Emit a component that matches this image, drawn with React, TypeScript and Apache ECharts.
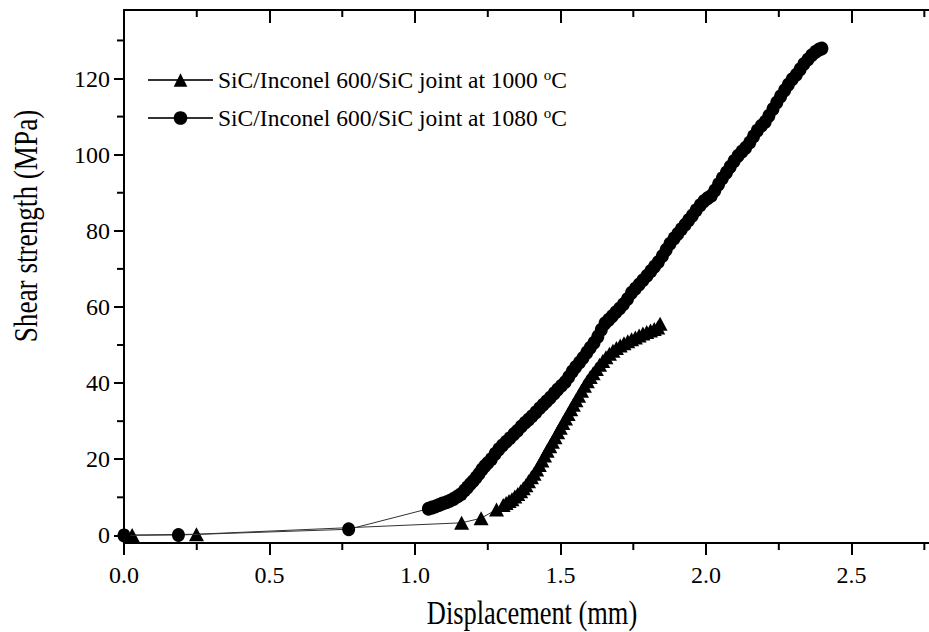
import React, { useEffect, useRef } from 'react';
import * as echarts from 'echarts';

// ---- data ----
const seriesNames = [
  'SiC/Inconel 600/SiC joint at 1000 °C',
  'SiC/Inconel 600/SiC joint at 1080 °C',
];

const xTicks = [0, 0.5, 1.0, 1.5, 2.0, 2.5];
const xMinorTicks = [0.25, 0.75, 1.25, 1.75, 2.25, 2.75];
const yTicks = [0, 20, 40, 60, 80, 100, 120];
const yMinorTicks = [10, 30, 50, 70, 90, 110, 130];

// 1000 °C joint (triangles)
const disp1000 = [
  0.028, 0.249, 1.16, 1.227, 1.28,
  1.303, 1.313, 1.323, 1.333, 1.343, 1.353, 1.363, 1.372, 1.381, 1.39,
  1.4, 1.409, 1.418, 1.427, 1.436, 1.445, 1.454, 1.463, 1.472, 1.481,
  1.49, 1.499, 1.508, 1.517, 1.526, 1.535, 1.544, 1.553, 1.562, 1.572,
  1.582, 1.592, 1.602, 1.612, 1.623, 1.634, 1.645, 1.656, 1.668, 1.68,
  1.692, 1.705, 1.718, 1.731, 1.744, 1.757, 1.77, 1.783, 1.796, 1.809,
  1.822, 1.834, 1.842,
];
const shear1000 = [
  0.1, 0.3, 3.3, 4.5, 6.8,
  8.0, 8.5, 9.0, 9.5, 10.2, 10.9, 11.6, 12.4, 13.2, 14.2,
  15.3, 16.2, 17.3, 18.5, 19.7, 21.0, 22.2, 23.4, 24.6, 25.8,
  27.1, 28.3, 29.5, 30.7, 31.9, 33.1, 34.3, 35.5, 36.7, 38.0,
  39.3, 40.5, 41.6, 42.6, 43.7, 44.8, 45.8, 46.8, 47.7, 48.5,
  49.2, 49.9, 50.5, 51.0, 51.5, 52.0, 52.5, 53.0, 53.4, 53.8,
  54.2, 54.6, 55.6,
];

// 1080 °C joint (circles)
const disp1080 = [
  0, 0.187, 0.772,
  1.046, 1.058, 1.07, 1.083, 1.095, 1.108, 1.12, 1.133, 1.146, 1.158,
  1.17, 1.18, 1.19, 1.2, 1.21, 1.22, 1.23, 1.24, 1.25, 1.262,
  1.275, 1.288, 1.3, 1.313, 1.326, 1.34, 1.352, 1.365, 1.378, 1.39,
  1.402, 1.415, 1.428, 1.44, 1.452, 1.465, 1.478, 1.49, 1.503, 1.516,
  1.528, 1.54, 1.552, 1.565, 1.577, 1.59, 1.602, 1.615, 1.628, 1.64,
  1.653, 1.665, 1.678, 1.69, 1.703, 1.716, 1.73, 1.744, 1.757, 1.77,
  1.783, 1.797, 1.81, 1.823, 1.836, 1.85, 1.863, 1.876, 1.89, 1.903,
  1.915, 1.928, 1.94, 1.953, 1.966, 1.98, 1.993, 2.006, 2.018, 2.03,
  2.043, 2.056, 2.07, 2.083, 2.096, 2.11, 2.123, 2.136, 2.15, 2.163,
  2.176, 2.19, 2.203, 2.216, 2.23, 2.243, 2.256, 2.27, 2.283, 2.296,
  2.31, 2.323, 2.336, 2.35, 2.363, 2.376, 2.388, 2.398,
];
const shear1080 = [
  0, 0.1, 1.6,
  7.0, 7.3, 7.6, 8.0, 8.4, 8.7, 9.1, 9.6, 10.2, 10.8,
  11.8, 12.6, 13.5, 14.3, 15.2, 16.2, 17.3, 18.2, 19.0, 20.0,
  21.4, 22.6, 23.6, 24.6, 25.5, 26.6, 27.5, 28.6, 29.6, 30.4,
  31.3, 32.3, 33.4, 34.3, 35.2, 36.2, 37.3, 38.3, 39.3, 40.3,
  41.6, 43.0, 44.2, 45.4, 46.6, 48.0, 49.3, 50.6, 52.2, 54.0,
  55.7, 56.6, 57.6, 58.6, 59.6, 60.7, 62.1, 63.7, 64.8, 65.9,
  67.0, 68.2, 69.4, 70.6, 71.8, 73.4, 75.0, 76.6, 78.0, 79.2,
  80.4, 81.6, 82.8, 84.0, 85.4, 86.7, 87.8, 88.6, 89.2, 90.6,
  92.2, 93.8, 95.3, 96.8, 98.3, 99.7, 100.8, 101.8, 103.2, 104.8,
  106.3, 107.6, 108.6, 110.2, 112.0, 113.7, 115.3, 116.9, 118.4, 119.8,
  121.0, 122.4, 123.8, 125.0, 126.1, 127.0, 127.6, 127.9,
];

const xTitle = 'Displacement (mm)';
const yTitle = 'Shear strength (MPa)';

const FONT = "'Liberation Serif', 'Times New Roman', serif";

// visible part of the axes (the frame's right side lies just past the picture edge)
const X_MIN = 0;
const X_MAX = 2.766;
const Y_MIN = -2;
const Y_MAX = 138;

function zip(xs: number[], ys: number[]) {
  return xs.map((x, i) => [x, ys[i]]);
}

export default function App() {
  const ref = useRef<HTMLDivElement>(null);

  useEffect(() => {
    if (!ref.current) return;
    const chart = echarts.init(ref.current, undefined, { renderer: 'svg' });

    const lineStyle = { color: '#000', width: 2 };
    const baseX = { type: 'value', min: X_MIN, max: X_MAX, splitLine: { show: false } };
    const baseY = { type: 'value', min: Y_MIN, max: Y_MAX, splitLine: { show: false } };
    const tickStyle = { stroke: '#000', lineWidth: 2 };

    const option: any = {
      animation: false,
      backgroundColor: '#fff',
      grid: {
        left: 124,
        right: 0,
        top: 10,
        bottom: 89,
        containLabel: false,
        outerBoundsMode: 'none',
      },
      legend: {
        orient: 'vertical',
        left: 142,
        top: 62,
        padding: 5,
        itemWidth: 65,
        itemHeight: 17,
        itemGap: 12,
        data: seriesNames,
        formatter: (name: string) => name.replace(' °C', ' {sup|o}C'),
        textStyle: {
          fontFamily: FONT,
          fontSize: 23.5,
          color: '#000',
          lineHeight: 26,
          rich: {
            sup: {
              fontFamily: FONT,
              fontSize: 15,
              color: '#000',
              lineHeight: 15,
              verticalAlign: 'top',
            },
          },
        },
      },
      xAxis: [
        {
          ...baseX,
          position: 'bottom',
          axisLine: { show: true, onZero: false, lineStyle },
          axisTick: { show: true, inside: false, length: 12, lineStyle, customValues: xTicks },
          axisLabel: {
            show: true,
            customValues: xTicks,
            formatter: (v: number) => v.toFixed(1),
            margin: 20,
            fontSize: 24,
            fontFamily: FONT,
            color: '#000',
          },
        },
        {
          ...baseX,
          position: 'top',
          axisLine: { show: true, onZero: false, lineStyle },
          axisTick: { show: true, inside: true, length: 13, lineStyle, customValues: xTicks },
          axisLabel: { show: false },
        },
      ],
      yAxis: [
        {
          ...baseY,
          position: 'left',
          axisLine: { show: true, onZero: false, lineStyle },
          axisTick: { show: true, inside: false, length: 10, lineStyle, customValues: yTicks },
          axisLabel: {
            show: true,
            customValues: yTicks,
            margin: 14,
            fontSize: 24,
            fontFamily: FONT,
            color: '#000',
          },
        },
      ],
      graphic: [
        {
          type: 'text',
          x: 532,
          y: 612,
          scaleX: 0.8,
          style: {
            text: xTitle,
            fontFamily: FONT,
            fontSize: 33,
            fill: '#000',
            align: 'center',
            verticalAlign: 'middle',
          },
        },
        {
          type: 'text',
          x: 26,
          y: 226,
          rotation: Math.PI / 2,
          scaleX: 0.8,
          style: {
            text: yTitle,
            fontFamily: FONT,
            fontSize: 34,
            fill: '#000',
            align: 'center',
            verticalAlign: 'middle',
          },
        },
      ],
      series: [
        // minor ticks on bottom (outward) and top (inward) axes
        {
          type: 'custom',
          xAxisIndex: 0,
          yAxisIndex: 0,
          silent: true,
          clip: false,
          data: xMinorTicks.map((v) => [v, Y_MIN]),
          renderItem: (params: any, api: any) => {
            const v = api.value(0);
            const b = api.coord([v, Y_MIN]);
            const t = api.coord([v, Y_MAX]);
            return {
              type: 'group',
              children: [
                { type: 'line', shape: { x1: b[0], y1: b[1], x2: b[0], y2: b[1] + 7 }, style: tickStyle },
                { type: 'line', shape: { x1: t[0], y1: t[1], x2: t[0], y2: t[1] + 7 }, style: tickStyle },
              ],
            };
          },
          z: 5,
        },
        // minor ticks on the left axis (outward)
        {
          type: 'custom',
          xAxisIndex: 0,
          yAxisIndex: 0,
          silent: true,
          clip: false,
          data: yMinorTicks.map((v) => [X_MIN, v]),
          renderItem: (params: any, api: any) => {
            const v = api.value(1);
            const l = api.coord([X_MIN, v]);
            return {
              type: 'line',
              shape: { x1: l[0], y1: l[1], x2: l[0] - 7, y2: l[1] },
              style: tickStyle,
            };
          },
          z: 5,
        },
        {
          name: seriesNames[0],
          type: 'line',
          xAxisIndex: 0,
          yAxisIndex: 0,
          data: zip(disp1000, shear1000),
          symbol: 'triangle',
          symbolSize: [15, 14],
          showAllSymbol: true,
          itemStyle: { color: '#000' },
          lineStyle: { color: '#333', width: 1 },
          z: 3,
        },
        {
          name: seriesNames[1],
          type: 'line',
          xAxisIndex: 0,
          yAxisIndex: 0,
          data: zip(disp1080, shear1080),
          symbol: 'circle',
          symbolSize: [13, 14],
          showAllSymbol: true,
          itemStyle: { color: '#000' },
          lineStyle: { color: '#333', width: 1 },
          z: 4,
        },
      ],
    };

    chart.setOption(option);
    return () => {
      chart.dispose();
    };
  }, []);

  return (
    <div
      ref={ref}
      style={{
        position: 'fixed',
        left: 0,
        top: 0,
        width: 929,
        height: 632,
        background: '#fff',
      }}
    />
  );
}
